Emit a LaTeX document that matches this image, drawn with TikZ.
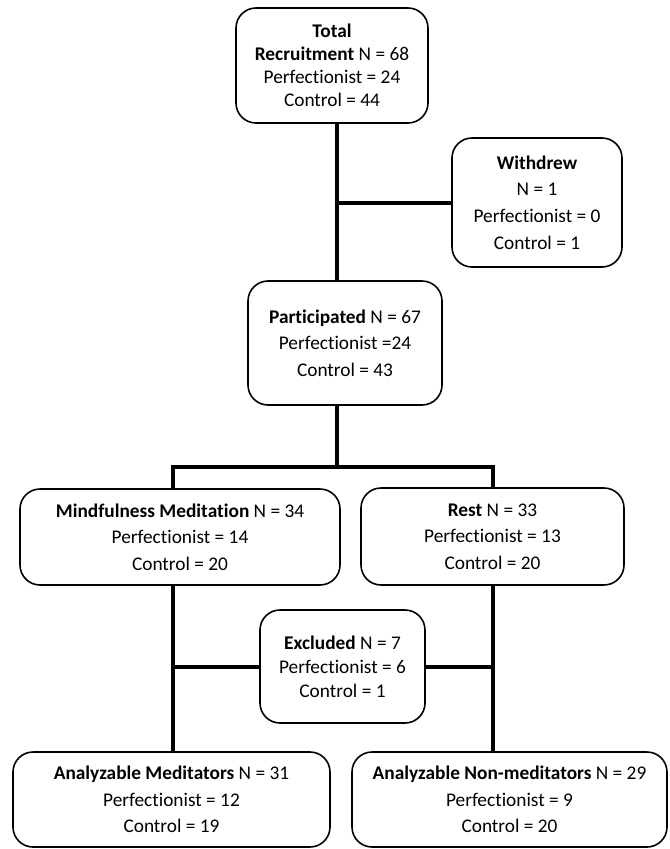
\documentclass[tikz,border=0pt]{standalone}
\usepackage{fontspec}
\setmainfont{Carlito}[Ligatures=NoCommon]
\def\Wpx{670}
\def\Hpx{849}
\def\LegL{173}
\def\LegR{493}
\def\Spine{337}
\tikzset{
    flowbox/.style={draw,line width=1.2pt,rounded corners=15pt,align=center,inner sep=2pt,
        font=\fontsize{14.5}{20}\selectfont},
    link/.style={line width=3pt}
}

\begin{document}
\begin{tikzpicture}[x=0.75pt,y=-0.75pt]
    \path[use as bounding box] (0,0) rectangle (\Wpx,\Hpx);
    \node[flowbox,minimum width=144pt,minimum height=86.25pt,font=\fontsize{14.5}{17.3}\selectfont] (total) at (332,65.5)
        {\textbf{Total}\\\textbf{Recruitment} N = 68\\Perfectionist = 24\\Control = 44};
    \node[flowbox,minimum width=127.5pt,minimum height=96.75pt] (withdrew) at (537,202.5)
        {\textbf{Withdrew}\\N = 1\\Perfectionist = 0\\Control = 1};
    \node[flowbox,minimum width=145.5pt,minimum height=93pt] (part) at (345,343)
        {\textbf{Participated} N = 67\\Perfectionist =24\\Control = 43};
    \node[flowbox,minimum width=240pt,minimum height=72pt] (mind) at (180,537)
        {\textbf{Mindfulness Meditation} N = 34\\Perfectionist = 14\\Control = 20};
    \node[flowbox,minimum width=197.25pt,minimum height=72.75pt] (rest) at (492.5,536.5)
        {\textbf{Rest} N = 33\\Perfectionist = 13\\Control = 20};
    \node[flowbox,minimum width=123.75pt,minimum height=84.75pt,font=\fontsize{14.5}{18}\selectfont] (excl) at (342.5,666.5)
        {\textbf{Excluded} N = 7\\Perfectionist = 6\\Control = 1};
    \node[flowbox,minimum width=237.75pt,minimum height=71.25pt] (medit) at (171.5,799.5)
        {\textbf{Analyzable Meditators} N = 31\\Perfectionist = 12\\Control = 19};
    \node[flowbox,minimum width=236.25pt,minimum height=71.25pt] (nonmed) at (509.5,799.5)
        {\textbf{Analyzable Non-meditators} N = 29\\Perfectionist = 9\\Control = 20};
    \coordinate (spine) at (\Spine,467);
    \coordinate (legL) at (\LegL,467);
    \coordinate (legR) at (\LegR,467);
    \draw[link] (total.south -| spine) -- (part.north -| spine);
    \draw[link] (spine |- withdrew.west) -- (withdrew.west);
    \draw[link] (part.south -| spine) -- (spine);
    \draw[link] (mind.north -| legL) -- (legL) -- (legR) -- (rest.north -| legR);
    \draw[link] (mind.south -| legL) -- (medit.north -| legL);
    \draw[link] (rest.south -| legR) -- (nonmed.north -| legR);
    \draw[link] (excl.west) -- (excl.west -| legL);
    \draw[link] (excl.east) -- (excl.east -| legR);
\end{tikzpicture}
\end{document}
